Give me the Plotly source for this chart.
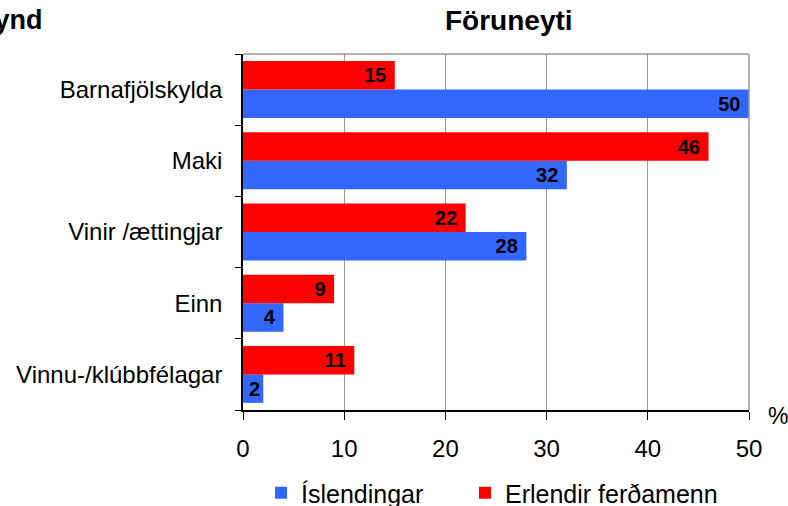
import plotly.graph_objects as go

categories = ["Barnafjölskylda", "Maki", "Vinir /ættingjar", "Einn", "Vinnu-/klúbbfélagar"]
islendingar = [50, 32, 28, 4, 2]
erlendir = [15, 46, 22, 9, 11]
x_ticks = [0, 10, 20, 30, 40, 50]

cats_bt = categories[::-1]
isl_bt = islendingar[::-1]
erl_bt = erlendir[::-1]

FONT = "Liberation Sans, Arial, sans-serif"
L, R, T, B = 243, 39, 54, 96
PW = 788 - L - R
PH = 506 - T - B


def label(v):
    # trailing no-break space gives the label some padding from the bar end,
    # except for very short bars where it would not fit
    return f"{v}\u00a0" if v >= 3 else str(v)


fig = go.Figure()
fig.add_trace(go.Bar(
    y=cats_bt, x=isl_bt, orientation="h", name="Íslendingar", legend="legend",
    marker=dict(color="#3366FF", line=dict(width=0)),
    text=[label(v) for v in isl_bt], textposition="inside", insidetextanchor="end",
    constraintext="none",
    textfont=dict(family=FONT, size=20, color="black", weight="bold"),
))
fig.add_trace(go.Bar(
    y=cats_bt, x=erl_bt, orientation="h", name="Erlendir ferðamenn", legend="legend2",
    marker=dict(color="#FF0000", line=dict(width=0)),
    text=[label(v) for v in erl_bt], textposition="inside", insidetextanchor="end",
    constraintext="none",
    textfont=dict(family=FONT, size=20, color="black", weight="bold"),
))

legend_common = dict(orientation="h", xanchor="left", y=-(493 - 410) / PH,
                     yanchor="middle", font=dict(size=25), itemwidth=30,
                     bgcolor="rgba(0,0,0,0)")

fig.update_layout(
    width=788, height=506,
    margin=dict(l=L, r=R, t=T, b=B, autoexpand=False),
    barmode="group", bargap=0.2, bargroupgap=0,
    plot_bgcolor="white", paper_bgcolor="white",
    font=dict(family=FONT, size=24, color="black"),
    showlegend=True,
    legend=dict(x=(261 - L) / PW, **legend_common),
    legend2=dict(x=(465 - L) / PW, **legend_common),
    xaxis=dict(range=[0, 50], tickvals=x_ticks, showgrid=True, gridcolor="#999999",
               gridwidth=1, showline=True, linecolor="black", linewidth=1.5,
               ticks="outside", ticklen=8, tickcolor="black", zeroline=False,
               tickfont=dict(size=24), ticklabelstandoff=8, automargin=False),
    yaxis=dict(categoryorder="array", categoryarray=cats_bt, showline=True,
               linecolor="black", linewidth=1.5, ticks="outside", ticklen=6,
               tickcolor="black", tickson="boundaries", showgrid=False,
               tickfont=dict(size=24), ticklabelstandoff=14, automargin=False),
    shapes=[
        dict(type="line", xref="paper", yref="paper", x0=0, x1=1, y0=1, y1=1,
             line=dict(color="#999999", width=1.5)),
        dict(type="line", xref="paper", yref="paper", x0=1, x1=1, y0=0, y1=1,
             line=dict(color="#999999", width=1.5)),
    ],
    annotations=[
        dict(text="<b>Föruneyti</b>", xref="paper", yref="paper", x=(509 - L) / PW,
             xanchor="center", y=1, yshift=T - 20, yanchor="middle", showarrow=False,
             font=dict(size=28)),
        dict(text="<b>Mynd</b>", xref="paper", yref="paper", x=(45 - L) / PW,
             xanchor="right", y=1, yshift=T - 20, yanchor="middle", showarrow=False,
             font=dict(size=27)),
        dict(text="%", xref="paper", yref="paper", x=1, xshift=17, xanchor="left",
             y=0, yshift=-6, yanchor="middle", showarrow=False, font=dict(size=23)),
    ],
)

fig.write_html("out.html", config={"displayModeBar": False},
               post_script="document.body.style.margin='0';document.body.style.padding='0';")
